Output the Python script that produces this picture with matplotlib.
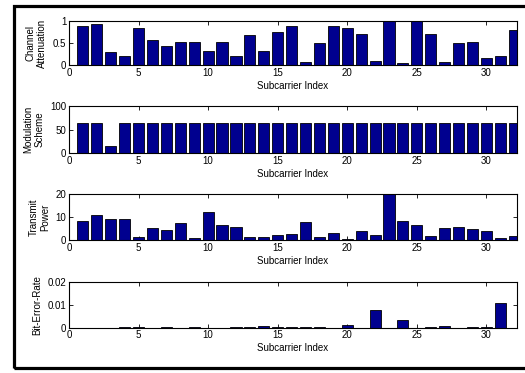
import matplotlib
matplotlib.use('Agg')
import matplotlib.pyplot as plt
import numpy as np
from matplotlib.patches import Rectangle

plt.rcParams['font.family'] = ['Liberation Sans', 'DejaVu Sans']
plt.rcParams['font.size'] = 7

# Per-subcarrier values (32 subcarriers).
subcarriers = np.arange(1, 33)

attenuation = [0.87, 0.92, 0.30, 0.21, 0.84, 0.56, 0.43, 0.52, 0.52, 0.31,
               0.52, 0.21, 0.67, 0.31, 0.75, 0.87, 0.08, 0.50, 0.88, 0.83,
               0.70, 0.10, 1.00, 0.05, 1.00, 0.70, 0.08, 0.50, 0.52, 0.16,
               0.21, 0.79]

modulation = [64, 64, 16, 64, 64, 64, 64, 64, 64, 64, 64, 64, 64, 64, 64, 64,
              64, 64, 64, 64, 64, 64, 64, 64, 64, 64, 64, 64, 64, 64, 64, 64]

power = [8.4, 11.1, 9.2, 9.2, 1.3, 5.1, 4.4, 7.4, 0.9, 12.3, 6.6, 5.5, 1.2,
         1.2, 2.2, 2.8, 7.7, 1.2, 3.2, 0.5, 4.0, 2.2, 20.0, 8.1, 6.6, 1.7,
         5.2, 5.8, 4.8, 3.9, 0.9, 1.6]

ber = [0.0, 0.0, 0.0, 0.0002, 0.0002, 0.0, 0.0002, 0.0, 0.0002, 0.0, 0.0,
       0.0002, 0.0002, 0.0006, 0.0002, 0.0002, 0.0002, 0.0002, 0.0, 0.0013,
       0.0, 0.0077, 0.0, 0.0034, 0.0, 0.0002, 0.0006, 0.0, 0.0002, 0.0002,
       0.0107, 0.0]

panels = [
    (attenuation, 'Channel\nAttenuation', [0, 0.5, 1], ['0', '0.5', '1']),
    (modulation, 'Modulation\nScheme', [0, 50, 100], ['0', '50', '100']),
    (power, 'Transmit\nPower', [0, 10, 20], ['0', '10', '20']),
    (ber, 'Bit-Error-Rate', [0, 0.01, 0.02], ['0', '0.01', '0.02']),
]

# Vertical extent of each axes, in pixels from the top.
rows_px = [(20.7, 65.3), (105.7, 153.3), (194.3, 240.0), (282.0, 327.7)]

W, H = 525, 373
fig = plt.figure(figsize=(W / 100, H / 100), dpi=100)

left_px, right_px = 69, 517
bar_color = '#00008F'

for (values, ylabel, yticks, yticklabels), (top, bottom) in zip(panels, rows_px):
    ax = fig.add_axes([left_px / W, 1 - bottom / H,
                       (right_px - left_px) / W, (bottom - top) / H])
    ax.bar(subcarriers, values, width=0.8, color=bar_color,
           edgecolor='black', linewidth=0.6, zorder=2)
    ax.set_xlim(0, 32.2)
    ax.set_ylim(yticks[0], yticks[-1])
    ax.set_xticks(range(0, 31, 5))
    ax.set_yticks(yticks)
    ax.set_yticklabels(yticklabels)
    ax.tick_params(direction='in', top=True, right=True, length=3,
                   width=0.6, pad=2, labelsize=7)
    for spine in ax.spines.values():
        spine.set_linewidth(0.8)
        spine.set_zorder(3)
    ax.set_xlabel('Subcarrier Index', labelpad=2)
    ax.set_ylabel(ylabel, labelpad=4, linespacing=1.2)

# Thick outer frame around the whole figure.
frame = Rectangle((13.5 / W, 1 - 367.5 / H), 1.0, (367.5 - 5.5) / H,
                  transform=fig.transFigure, fill=False,
                  edgecolor='black', linewidth=2.3, clip_on=False)
fig.patches.append(frame)

fig.savefig('out.png', dpi=100)
